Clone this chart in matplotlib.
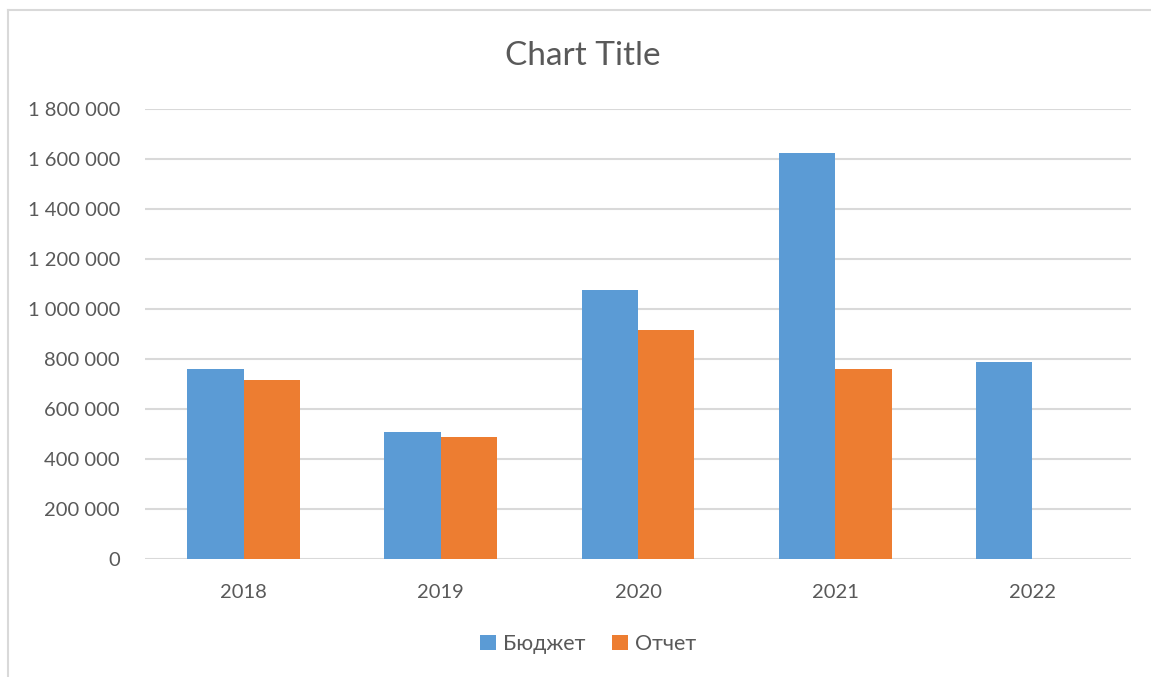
import matplotlib
matplotlib.use("Agg")
import matplotlib.pyplot as plt
from matplotlib.lines import Line2D
from matplotlib.patches import Patch
import numpy as np

plt.rcParams['font.family'] = ['Lato', 'DejaVu Sans']

years = ["2018", "2019", "2020", "2021", "2022"]
budget = [760000, 508000, 1075000, 1626000, 789000]
report = [716000, 489000, 916000, 760000, np.nan]
series_names = ["Бюджет", "Отчет"]
yticks = [0, 200000, 400000, 600000, 800000, 1000000, 1200000, 1400000, 1600000, 1800000]

W, H = 1151, 677
fig = plt.figure(figsize=(W / 100, H / 100), dpi=100)
fig.patch.set_facecolor("white")

# chart border (light gray)
fig.add_artist(Line2D([8 / W, 1.0], [1 - 10 / H, 1 - 10 / H], transform=fig.transFigure, color="#d9d9d9", lw=1.5))
fig.add_artist(Line2D([8 / W, 8 / W], [0, 1 - 10 / H], transform=fig.transFigure, color="#d9d9d9", lw=1.5))

left, right, top, bottom = 145, 1131, 109, 559
ax = fig.add_axes([left / W, 1 - bottom / H, (right - left) / W, (bottom - top) / H])

x = np.arange(len(years))
w = 0.2857
c_blue = "#5b9bd5"
c_orange = "#ed7d31"
ax.bar(x - w / 2, budget, width=w, color=c_blue, label=series_names[0], zorder=3)
ax.bar(x + w / 2, report, width=w, color=c_orange, label=series_names[1], zorder=3)

ax.set_xlim(-0.5, len(years) - 0.5)
ax.set_ylim(0, 1800000)
ax.set_yticks(yticks)
ax.set_yticklabels([f"{v:,.0f}".replace(",", " ") for v in yticks])
ax.set_xticks(x)
ax.set_xticklabels(years)
ax.tick_params(axis="both", length=0, labelsize=14.5, colors="#595959")
ax.tick_params(axis="y", pad=18)
ax.tick_params(axis="x", pad=18)
for s in ax.spines.values():
    s.set_visible(False)
ax.grid(axis="y", color="#d9d9d9", lw=1.5, zorder=0)
ax.set_axisbelow(True)

fig.text(583 / W, 1 - 56 / H, "Chart Title", ha="center", va="center", fontsize=24, color="#595959")

handles = [Patch(facecolor=c_blue), Patch(facecolor=c_orange)]
fig.legend(handles, series_names, loc="center", bbox_to_anchor=(588 / W, 1 - 644 / H), ncol=2, frameon=False,
           fontsize=15.5, labelcolor="#595959", handlelength=0.75, handleheight=0.75, handletextpad=0.35,
           columnspacing=1.2)

fig.savefig("out.png", dpi=100, facecolor="white")
